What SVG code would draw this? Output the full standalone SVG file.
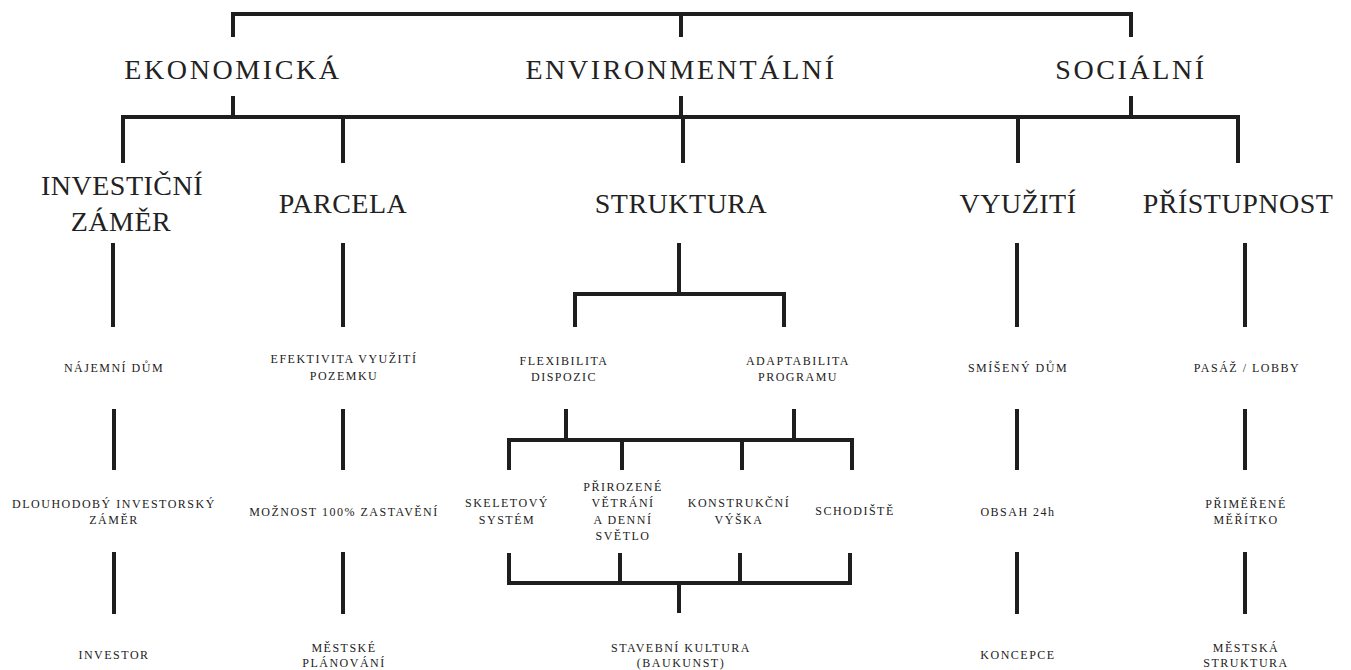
<svg xmlns="http://www.w3.org/2000/svg" width="1351" height="670" viewBox="0 0 1351 670">
<style>
.bg{fill:#ffffff}
.ln{fill:none;stroke:#1e1e1e;stroke-width:4;stroke-linejoin:miter;stroke-linecap:butt}
.t{fill:#222;text-anchor:middle}
.l1{font-size:28px;letter-spacing:2.6px}
.l2{font-size:28px;letter-spacing:0.5px}
.s{font-size:12px;letter-spacing:1.5px}
</style>
<rect class="bg" x="0" y="0" width="1351" height="670"/>
<g id="connectors">
  <path class="ln" d="M233 37V14H1131V37M681 14V37"/>
  <path class="ln" d="M233 96V117M681 96V117M1131 96V117"/>
  <path class="ln" d="M123 163V117H1238V163M343 117V163M683 117V163M1018 117V163"/>
  <path class="ln" d="M113 243V327M343 243V327M1017 243V327M1245 243V327"/>
  <path class="ln" d="M679 243V294M575 327V294H784V327"/>
  <path class="ln" d="M114 409V470M343 409V470M1017 409V470M1245 409V470"/>
  <path class="ln" d="M114 552V614M343 552V614M1017 552V614M1245 552V614"/>
  <path class="ln" d="M566 409V440M794 409V440M509 470V440H852V470M622 440V470M742 440V470"/>
  <path class="ln" d="M509 553V583H850V553M620 553V583M740 553V583M679 583V613"/>
</g>
<g class="t" font-family="Liberation Serif, DejaVu Serif, serif">
<g id="n-ekonomicka"><text class="l1" x="233" y="79">EKONOMICKÁ</text></g>
<g id="n-environmentalni"><text class="l1" x="681" y="79">ENVIRONMENTÁLNÍ</text></g>
<g id="n-socialni"><text class="l1" x="1131" y="79">SOCIÁLNÍ</text></g>
<g id="n-investicni"><text class="l2" x="122" y="195">INVESTIČNÍ</text><text class="l2" x="121" y="231">ZÁMĚR</text></g>
<g id="n-parcela"><text class="l2" x="343" y="213">PARCELA</text></g>
<g id="n-struktura"><text class="l2" x="681" y="213">STRUKTURA</text></g>
<g id="n-vyuziti"><text class="l2" x="1018" y="213">VYUŽITÍ</text></g>
<g id="n-pristupnost"><text class="l2" x="1238" y="213">PŘÍSTUPNOST</text></g>
<g id="n-najemni"><text class="s" x="114" y="372">NÁJEMNÍ DŮM</text></g>
<g id="n-efektivita"><text class="s" x="344" y="363">EFEKTIVITA VYUŽITÍ</text><text class="s" x="344" y="380">POZEMKU</text></g>
<g id="n-flexibilita"><text class="s" x="564" y="365">FLEXIBILITA</text><text class="s" x="564" y="381">DISPOZIC</text></g>
<g id="n-adaptabilita"><text class="s" x="798" y="365">ADAPTABILITA</text><text class="s" x="798" y="381">PROGRAMU</text></g>
<g id="n-smiseny"><text class="s" x="1018" y="372">SMÍŠENÝ DŮM</text></g>
<g id="n-pasaz"><text class="s" x="1247" y="372">PASÁŽ / LOBBY</text></g>
<g id="n-dlouhodoby"><text class="s" x="114" y="508">DLOUHODOBÝ INVESTORSKÝ</text><text class="s" x="114" y="524">ZÁMĚR</text></g>
<g id="n-moznost"><text class="s" x="344" y="516">MOŽNOST 100% ZASTAVĚNÍ</text></g>
<g id="n-skeletovy"><text class="s" x="507" y="507">SKELETOVÝ</text><text class="s" x="507" y="524">SYSTÉM</text></g>
<g id="n-prirozene"><text class="s" x="623" y="491">PŘIROZENÉ</text><text class="s" x="623" y="507">VĚTRÁNÍ</text><text class="s" x="623" y="524">A DENNÍ</text><text class="s" x="623" y="540">SVĚTLO</text></g>
<g id="n-konstrukcni"><text class="s" x="739" y="507">KONSTRUKČNÍ</text><text class="s" x="739" y="524">VÝŠKA</text></g>
<g id="n-schodiste"><text class="s" x="855" y="515">SCHODIŠTĚ</text></g>
<g id="n-obsah"><text class="s" x="1018" y="516">OBSAH 24h</text></g>
<g id="n-primerene"><text class="s" x="1246" y="508">PŘIMĚŘENÉ</text><text class="s" x="1246" y="524">MĚŘÍTKO</text></g>
<g id="n-investor"><text class="s" x="114" y="659">INVESTOR</text></g>
<g id="n-mestske"><text class="s" x="344" y="652">MĚSTSKÉ</text><text class="s" x="344" y="667">PLÁNOVÁNÍ</text></g>
<g id="n-stavebni"><text class="s" x="681" y="652">STAVEBNÍ KULTURA</text><text class="s" x="681" y="667">(BAUKUNST)</text></g>
<g id="n-koncepce"><text class="s" x="1018" y="659">KONCEPCE</text></g>
<g id="n-mestska"><text class="s" x="1246" y="652">MĚSTSKÁ</text><text class="s" x="1246" y="667">STRUKTURA</text></g>
</g>
</svg>
